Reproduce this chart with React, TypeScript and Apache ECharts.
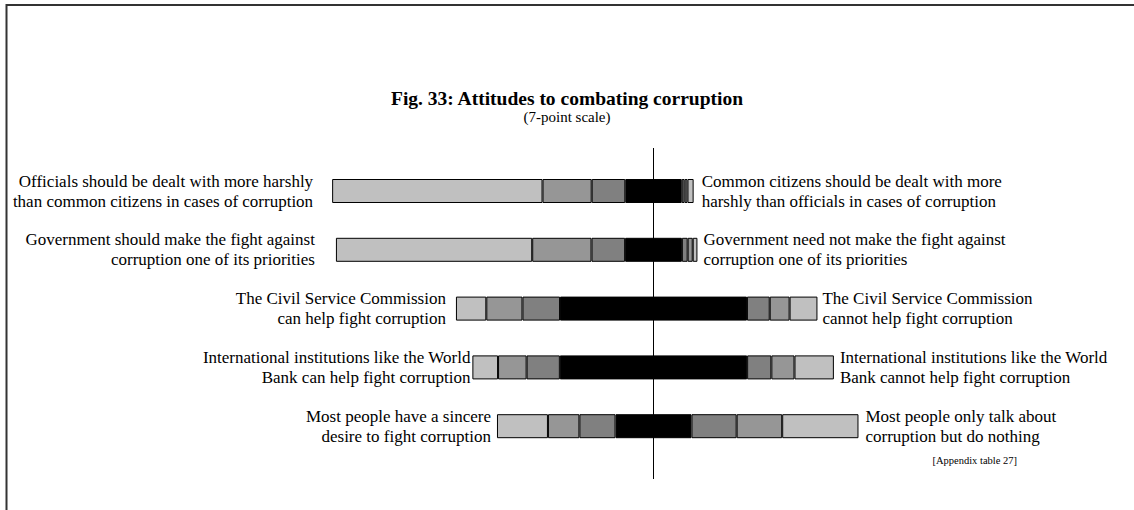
import React, { useEffect, useRef } from "react";
import * as echarts from "echarts";

const categories = [
  "Officials vs common citizens",
  "Government priority",
  "Civil Service Commission",
  "International institutions",
  "Sincere desire",
];
const leftLabels = [
  "Officials should be dealt with more harshly\nthan common citizens in cases of corruption",
  "Government should make the fight against\ncorruption one of its priorities",
  "The Civil Service Commission\ncan help fight corruption",
  "International institutions like the World\nBank can help fight corruption",
  "Most people have a sincere\ndesire to fight corruption",
];
const rightLabels = [
  "Common citizens should be dealt with more\nharshly than officials in cases of corruption",
  "Government need not make the fight against\ncorruption one of its priorities",
  "The Civil Service Commission\ncannot help fight corruption",
  "International institutions like the World\nBank cannot help fight corruption",
  "Most people only talk about\ncorruption but do nothing",
];
// percentage of respondents per scale point (1..7), per statement
const point1 = [58.2, 54.3, 8.4, 7.1, 14.1];
const point2 = [13.6, 16.4, 10.0, 7.9, 8.7];
const point3 = [9.3, 9.3, 10.4, 9.2, 10.0];
const point4 = [15.6, 15.7, 51.7, 51.8, 21.0];
const point5 = [0.8, 1.6, 6.3, 6.7, 12.5];
const point6 = [0.8, 1.4, 5.5, 6.4, 12.6];
const point7 = [1.7, 1.3, 7.7, 10.9, 21.1];
const points = [point1, point2, point3, point4, point5, point6, point7];

const leftGap = [19, 21, 10, 2, 6];
const rightGap = [8, 6, 5, 6, 7];
const colors = ["#c0c0c0", "#969696", "#808080", "#000000", "#808080", "#969696", "#c0c0c0"];
const FONT = "'Liberation Serif', 'Times New Roman', serif";

export default function App() {
  const ref = useRef<HTMLDivElement>(null);
  useEffect(() => {
    document.body.style.margin = "0";
    const chart = echarts.init(ref.current!, undefined, { renderer: "svg" });
    const center = 100;
    const offsets = categories.map(
      (_, i) => center - (point1[i] + point2[i] + point3[i] + point4[i] / 2)
    );
    const series: any[] = [
      {
        type: "bar",
        stack: "s",
        silent: true,
        itemStyle: { color: "transparent", borderWidth: 0 },
        data: offsets,
        barWidth: 24,
      },
    ];
    points.forEach((arr, k) => {
      series.push({
        type: "bar",
        stack: "s",
        barWidth: 24,
        itemStyle: { color: colors[k], borderColor: "#000", borderWidth: 1 },
        data: arr.map((v, i) => {
          const item: any = { value: v };
          if (k === 0) {
            item.label = {
              show: true,
              position: "left",
              distance: leftGap[i],
              formatter: leftLabels[i],
              fontFamily: FONT,
              fontSize: 17,
              lineHeight: 20,
              color: "#000",
              align: "right",
            };
          }
          if (k === 6) {
            item.label = {
              show: true,
              position: "right",
              distance: rightGap[i],
              formatter: rightLabels[i],
              fontFamily: FONT,
              fontSize: 17,
              lineHeight: 20,
              color: "#000",
              align: "left",
            };
          }
          return item;
        }),
      });
    });
    chart.setOption({
      animation: false,
      backgroundColor: "#fff",
      title: {
        text: "Fig. 33: Attitudes to combating corruption",
        subtext: "(7-point scale)",
        left: "center",
        top: 83,
        itemGap: 1,
        textStyle: { fontFamily: FONT, fontWeight: "bold", fontSize: 19.5, color: "#000" },
        subtextStyle: { fontFamily: FONT, fontSize: 15, color: "#000" },
      },
      grid: { left: 292, width: 723, top: 161.6, height: 294 },
      xAxis: { type: "value", min: 0, max: 200, show: false },
      yAxis: { type: "category", data: categories, inverse: true, show: false },
      series,
    });
    const cx = chart.convertToPixel({ xAxisIndex: 0 }, center) as number;
    chart.setOption({
      graphic: [
        {
          type: "rect",
          shape: { x: 6.5, y: 5, width: 1300, height: 700 },
          style: { fill: "none", stroke: "#333", lineWidth: 2 },
          silent: true,
        },
        {
          type: "line",
          shape: { x1: cx, y1: 148, x2: cx, y2: 479 },
          style: { stroke: "#000", lineWidth: 1 },
          silent: true,
        },
        {
          type: "text",
          right: 117,
          top: 455,
          style: { text: "[Appendix table 27]", font: `10.5px ${FONT}`, fill: "#000" },
        },
      ],
    });
    return () => chart.dispose();
  }, []);
  return <div ref={ref} style={{ width: 1134, height: 510 }} />;
}
